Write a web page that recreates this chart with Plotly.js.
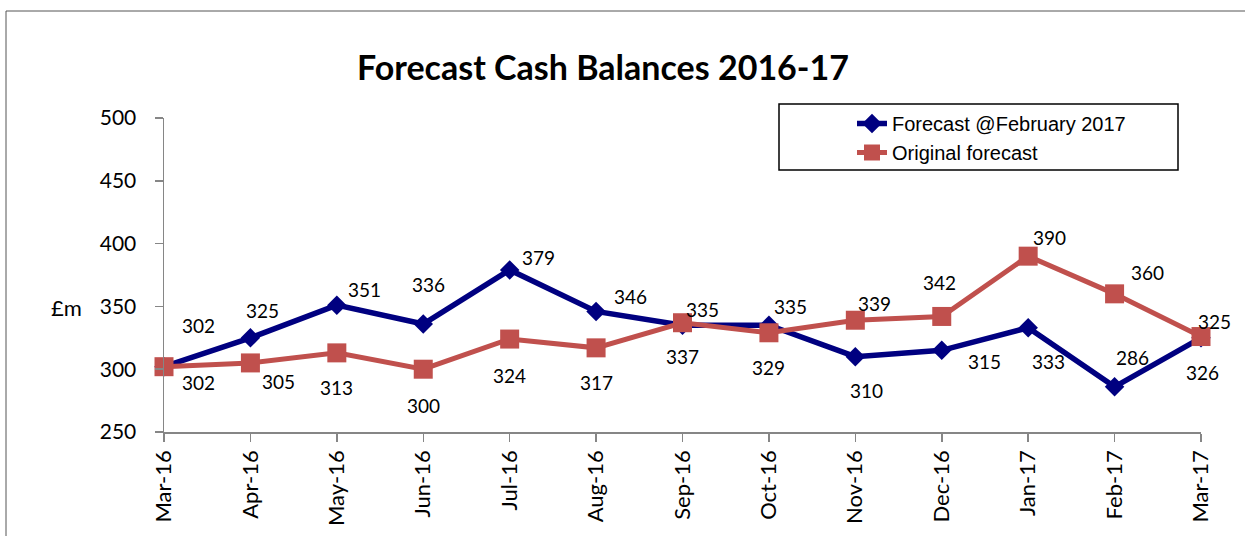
<!DOCTYPE html>
<html>
<head>
<meta charset="utf-8">
<script src="https://cdn.plot.ly/plotly-3.0.1.min.js"></script>
<style>
  html, body { margin: 0; padding: 0; background: #ffffff; }
  #chart { width: 1245px; height: 536px; }
</style>
</head>
<body>
<div id="chart"></div>
<script>
// ---- Data ----
const months = ['Mar-16','Apr-16','May-16','Jun-16','Jul-16','Aug-16','Sep-16','Oct-16','Nov-16','Dec-16','Jan-17','Feb-17','Mar-17'];
const forecastFeb2017 = [302, 325, 351, 336, 379, 346, 335, 335, 310, 315, 333, 286, 325];
const originalForecast = [302, 305, 313, 300, 324, 317, 337, 329, 339, 342, 390, 360, 326];
const seriesNames = ['Forecast @February 2017', 'Original forecast'];
const yTicks = [250, 300, 350, 400, 450, 500];

// ---- Label placement (screen offsets in px, dx right / dy down) ----
const blueLabelDx = [34, 12, 28, 5, 29, 34, 20, 22, 11, 43, 20, 18, 13];
const blueLabelDy = [-41, -27, -16, -39, -12, -15, -16, -19, 34, 11, 34, -29, -16];
const redLabelDx  = [34, 28, 0, 0, 0, 0, 0, 0, 19, -2, 21, 33, 1];
const redLabelDy  = [16, 19, 35, 36, 36, 35, 34, 35, -17, -34, -19, -21, 36];

const BLUE = '#000080';
const RED = '#C0504D';
const CAL = 'Lato, "Open Sans", sans-serif';

// plot-area pixel geometry helpers (for non-data furniture only)
const PL = 164, PR = 1201, PT = 118, PB = 432;
const px = v => (v - PL) / (PR - PL);
const py = v => (PB - v) / (PB - PT);

const traces = [
  {
    type: 'scatter', mode: 'lines+markers', name: seriesNames[0],
    x: months, y: forecastFeb2017, cliponaxis: false,
    line: { color: BLUE, width: 5.5 },
    marker: { symbol: 'diamond', size: 15, color: BLUE }
  },
  {
    type: 'scatter', mode: 'lines+markers', name: seriesNames[1],
    x: months, y: originalForecast, cliponaxis: false,
    line: { color: RED, width: 5 },
    marker: { symbol: 'square', size: 19, color: RED }
  }
];

const annotations = [];
months.forEach((m, i) => {
  annotations.push({
    x: m, y: forecastFeb2017[i], xref: 'x', yref: 'y',
    text: String(forecastFeb2017[i]), showarrow: false,
    xanchor: 'center', yanchor: 'middle',
    xshift: blueLabelDx[i], yshift: -blueLabelDy[i],
    font: { family: CAL, size: 19, color: '#000000' }
  });
  annotations.push({
    x: m, y: originalForecast[i], xref: 'x', yref: 'y',
    text: String(originalForecast[i]), showarrow: false,
    xanchor: 'center', yanchor: 'middle',
    xshift: redLabelDx[i], yshift: -redLabelDy[i],
    font: { family: CAL, size: 19, color: '#000000' }
  });
});
annotations.push({
  x: px(66), y: py(307), xref: 'paper', yref: 'paper', text: '£m', showarrow: false,
  xanchor: 'center', yanchor: 'middle',
  font: { family: CAL, size: 22, color: '#000000' }
});

const layout = {
  width: 1245, height: 536,
  margin: { l: PL, r: 1245 - PR, t: PT, b: 536 - PB, pad: 0 },
  paper_bgcolor: '#ffffff', plot_bgcolor: '#ffffff',
  showlegend: true,
  title: {
    text: '<b>Forecast Cash Balances 2016-17</b>',
    font: { family: CAL, size: 34, color: '#000000' },
    xref: 'container', yref: 'container',
    x: 603 / 1245, xanchor: 'center',
    y: 1 - 68 / 536, yanchor: 'middle'
  },
  xaxis: {
    type: 'category', range: [0, months.length - 1],
    showgrid: false, zeroline: false,
    showline: true, linecolor: '#868686', linewidth: 1.5,
    ticks: 'outside', ticklen: 8, tickcolor: '#868686', tickwidth: 1.5,
    tickangle: -90,
    tickfont: { family: CAL, size: 22, color: '#000000' },
    fixedrange: true
  },
  yaxis: {
    range: [250, 500], tickvals: yTicks, ticktext: yTicks.map(String),
    showgrid: false, zeroline: false,
    showline: true, linecolor: '#868686', linewidth: 1.5,
    ticks: 'outside', ticklen: 8, tickcolor: '#868686', tickwidth: 1.5,
    ticklabelstandoff: 14,
    tickfont: { family: CAL, size: 21, color: '#000000' },
    fixedrange: true
  },
  legend: {
    x: px(852), xanchor: 'left',
    y: py(104), yanchor: 'top',
    bgcolor: 'rgba(0,0,0,0)', borderwidth: 0,
    font: { family: '"Liberation Sans", Arial, sans-serif', size: 20, color: '#000000' },
    tracegroupgap: 0
  },
  annotations: annotations,
  shapes: [
    { type: 'rect', xref: 'paper', yref: 'paper',
      x0: px(779), x1: px(1178), y0: py(170), y1: py(104),
      line: { color: '#000000', width: 1.5 }, fillcolor: 'rgba(0,0,0,0)', layer: 'below' },
    { type: 'rect', xref: 'paper', yref: 'paper',
      x0: px(6), x1: px(1250), y0: py(545), y1: py(11),
      line: { color: '#555555', width: 1 }, fillcolor: 'rgba(0,0,0,0)', layer: 'below' }
  ],
  hovermode: false
};

Plotly.newPlot('chart', traces, layout, { displayModeBar: false, staticPlot: true });
</script>
</body>
</html>
